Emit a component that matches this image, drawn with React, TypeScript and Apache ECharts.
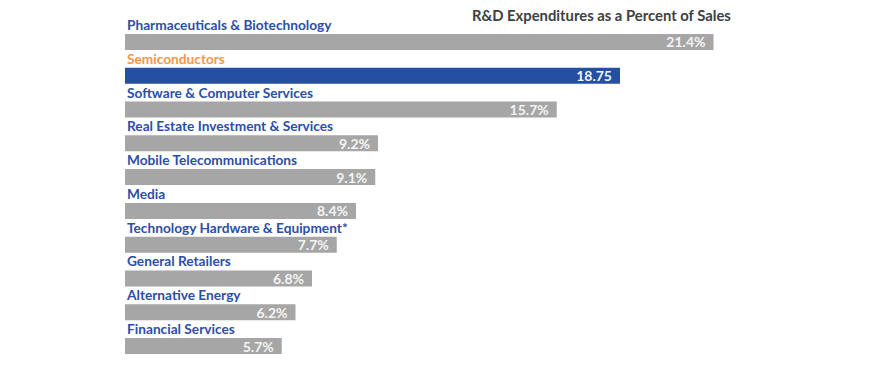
import React, { useEffect, useRef } from "react";
import * as echarts from "echarts";

const categories = [
  "Pharmaceuticals & Biotechnology",
  "Semiconductors",
  "Software & Computer Services",
  "Real Estate Investment & Services",
  "Mobile Telecommunications",
  "Media",
  "Technology Hardware & Equipment*",
  "General Retailers",
  "Alternative Energy",
  "Financial Services",
];
const values = [21.4, 18.0, 15.7, 9.2, 9.1, 8.4, 7.7, 6.8, 6.2, 5.7];
const valueLabels = ["21.4%", "18.75", "15.7%", "9.2%", "9.1%", "8.4%", "7.7%", "6.8%", "6.2%", "5.7%"];
const highlighted = "Semiconductors";
const titleText = "R&D Expenditures as a Percent of Sales";

const FONT = "Lato, 'Open Sans', sans-serif";
const GRAY = "#a6a6a6";
const BLUE_BAR = "#254fa2";
const BLUE_TEXT = "#2d4ea6";
const ORANGE = "#f7964a";

export default function App() {
  const ref = useRef<HTMLDivElement>(null);
  useEffect(() => {
    if (!ref.current) return;
    const chart = echarts.init(ref.current, undefined, { renderer: "svg" });
    chart.setOption({
      animation: false,
      title: {
        text: titleText,
        left: 467,
        top: 2,
        textStyle: { fontFamily: FONT, fontSize: 14.8, fontWeight: "bold", color: "#404040" },
      },
      grid: { left: 125, right: 60.5, top: 25.1, bottom: 6.1, containLabel: false },
      xAxis: { type: "value", min: 0, max: 25, show: false },
      yAxis: {
        type: "category",
        data: categories,
        inverse: true,
        show: false,
      },
      series: [
        {
          type: "bar",
          barWidth: 16,
          data: values.map((v, i) => ({
            value: v,
            itemStyle: { color: categories[i] === highlighted ? BLUE_BAR : GRAY },
          })),
          label: {
            show: true,
            position: "insideRight",
            distance: 8,
            formatter: (p: any) => valueLabels[p.dataIndex],
            color: "#f4f4f4",
            fontFamily: FONT,
            fontSize: 14,
            fontWeight: "bold",
          },
        },
        {
          type: "bar",
          barWidth: 16,
          barGap: "-100%",
          silent: true,
          data: values.map((v, i) => ({
            value: v,
            label: { color: categories[i] === highlighted ? ORANGE : BLUE_TEXT },
          })),
          itemStyle: { color: "transparent" },
          label: {
            show: true,
            position: [2, -9.5],
            align: "left",
            verticalAlign: "middle",
            formatter: "{b}",
            fontFamily: FONT,
            fontSize: 13.7,
            fontWeight: "bold",
          },
        },
      ],
    });
    return () => chart.dispose();
  }, []);
  return (
    <div
      ref={ref}
      style={{ position: "fixed", left: 0, top: 0, width: 873, height: 369, background: "#fff" }}
    />
  );
}
